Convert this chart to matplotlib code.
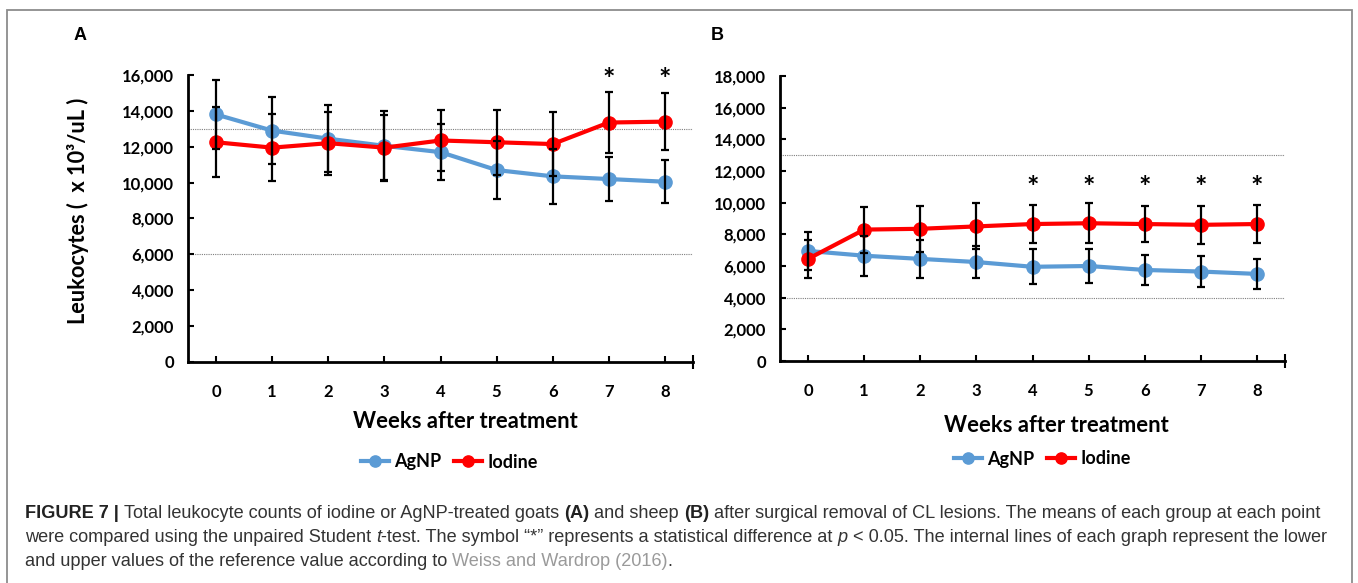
import matplotlib
matplotlib.use("Agg")
import matplotlib.pyplot as plt
from matplotlib.patches import Rectangle

# data
weeks = [0, 1, 2, 3, 4, 5, 6, 7, 8]
week_labels = ["0", "1", "2", "3", "4", "5", "6", "7", "8"]

goat_agnp = [13800, 12900, 12450, 12050, 11700, 10700, 10350, 10200, 10050]
goat_agnp_err = [1900, 1850, 1850, 1950, 1550, 1600, 1550, 1250, 1200]
goat_iodine = [12250, 11950, 12200, 11950, 12350, 12250, 12150, 13350, 13400]
goat_iodine_err = [1950, 1850, 1750, 1800, 1700, 1800, 1800, 1700, 1600]
goat_ref = [6000, 13000]
goat_sig = [7, 8]
goat_yticks = [0, 2000, 4000, 6000, 8000, 10000, 12000, 14000, 16000]

sheep_agnp = [6950, 6650, 6450, 6250, 5950, 6000, 5750, 5650, 5500]
sheep_agnp_err = [1200, 1250, 1200, 1000, 1100, 1050, 950, 1000, 950]
sheep_iodine = [6450, 8300, 8350, 8500, 8650, 8700, 8650, 8600, 8650]
sheep_iodine_err = [1200, 1450, 1450, 1450, 1200, 1250, 1150, 1200, 1200]
sheep_ref = [4000, 13000]
sheep_sig = [4, 5, 6, 7, 8]
sheep_yticks = [0, 2000, 4000, 6000, 8000, 10000, 12000, 14000, 16000, 18000]

BLUE = "#5B9BD5"
RED = "#FF0000"
FONT = ["Lato", "DejaVu Sans"]

W, H = 1358, 583
fig = plt.figure(figsize=(W / 100, H / 100), dpi=100)

def fx(x):
    return x / W

def fy(y):
    return 1 - y / H

# outer frame of the figure panel
fig.patches.append(Rectangle((fx(7), fy(600)), fx(1352) - fx(7), fy(10) - fy(600),
                             transform=fig.transFigure, fill=False,
                             edgecolor="#8c8c8c", lw=1.3, clip_on=False))


def panel(rect, agnp, agnp_err, iodine, iodine_err, ref, sig, yticks, ymax, star_y):
    ax = fig.add_axes(rect)
    for r in ref:
        ax.axhline(r, color="#7f7f7f", lw=0.8, ls=(0, (1, 1)), zorder=1)
    ax.plot(weeks, agnp, color=BLUE, lw=3, marker="o", ms=9.5, zorder=2, label="AgNP")
    ax.plot(weeks, iodine, color=RED, lw=3, marker="o", ms=9.5, zorder=2, label="Iodine")
    ax.errorbar(weeks, agnp, yerr=agnp_err, fmt="none", ecolor="black",
                elinewidth=1.6, capsize=3, capthick=1.6, zorder=3)
    ax.errorbar(weeks, iodine, yerr=iodine_err, fmt="none", ecolor="black",
                elinewidth=1.6, capsize=3, capthick=1.6, zorder=3)
    for w in sig:
        ax.text(w, star_y, "*", ha="center", va="center", fontsize=21,
                fontweight="bold", family=FONT, clip_on=False)
    ax.set_xlim(-0.5, 8.5)
    ax.set_ylim(0, ymax)
    ax.set_xticks(weeks)
    ax.set_xticklabels(week_labels)
    ax.set_yticks(yticks)
    ax.set_yticklabels([f"{v:,}" for v in yticks])
    ax.tick_params(axis="y", direction="in", length=4, width=1.5, pad=10)
    ax.tick_params(axis="x", direction="in", length=4, width=1.5, pad=16)
    ax.set_xticks([8.5], minor=True)
    ax.tick_params(axis="x", which="minor", direction="inout", length=10, width=1.5)
    for lab in ax.get_xticklabels() + ax.get_yticklabels():
        lab.set_family(FONT)
        lab.set_fontweight("bold")
        lab.set_fontsize(12)
    for s in ["top", "right"]:
        ax.spines[s].set_visible(False)
    for s in ["left", "bottom"]:
        ax.spines[s].set_linewidth(2)
    return ax


axA = panel([fx(188), fy(362), fx(693) - fx(188), fy(75) - fy(362)],
            goat_agnp, goat_agnp_err, goat_iodine, goat_iodine_err,
            goat_ref, goat_sig, goat_yticks, 16000, 15700)
axB = panel([fx(780), fy(361), fx(1285) - fx(780), fy(76) - fy(361)],
            sheep_agnp, sheep_agnp_err, sheep_iodine, sheep_iodine_err,
            sheep_ref, sheep_sig, sheep_yticks, 18000, 10950)

# titles, labels, legends
fig.text(fx(80), fy(35), "A", fontsize=13, fontweight="bold", family="Liberation Sans",
         ha="center", va="center")
fig.text(fx(717), fy(35), "B", fontsize=13, fontweight="bold", family="Liberation Sans",
         ha="center", va="center")
fig.text(fx(465), fy(421), "Weeks after treatment", fontsize=15.8, fontweight="bold",
         family=FONT, ha="center", va="center")
fig.text(fx(1056), fy(425), "Weeks after treatment", fontsize=15.8, fontweight="bold",
         family=FONT, ha="center", va="center")
fig.text(fx(78), fy(211), "Leukocytes (  x 10³/uL )", fontsize=15.7, fontweight="bold",
         family=FONT, ha="center", va="center", rotation=90)

for ax, cx, cy in [(axA, 449, 462), (axB, 1042, 459)]:
    ax.legend(loc="center", bbox_to_anchor=(fx(cx), fy(cy)), bbox_transform=fig.transFigure,
              ncol=2, frameon=False, handlelength=1.55, handletextpad=0.3,
              columnspacing=0.7, markerscale=0.85,
              prop={"family": FONT, "weight": "bold", "size": 13})

# caption with mixed styles
renderer = fig.canvas.get_renderer()
CAP = ["Liberation Sans", "DejaVu Sans"]
CAP_SIZE = 13.1
caption = [
    [("FIGURE 7 | ", "bold", "normal", "#222222"),
     ("Total leukocyte counts of iodine or AgNP-treated goats ", "normal", "normal", "#333333"),
     ("(A)", "bold", "normal", "#222222"),
     (" and sheep ", "normal", "normal", "#333333"),
     ("(B)", "bold", "normal", "#222222"),
     (" after surgical removal of CL lesions. The means of each group at each point",
      "normal", "normal", "#333333")],
    [("were compared using the unpaired Student ", "normal", "normal", "#333333"),
     ("t", "normal", "italic", "#333333"),
     ("-test. The symbol \u201c*\u201d represents a statistical difference at ", "normal", "normal", "#333333"),
     ("p", "normal", "italic", "#333333"),
     (" < 0.05. The internal lines of each graph represent the lower", "normal", "normal", "#333333")],
    [("and upper values of the reference value according to ", "normal", "normal", "#333333"),
     ("Weiss and Wardrop (2016)", "normal", "normal", "#9a9a9a"),
     (".", "normal", "normal", "#333333")],
]
for row, ypix in zip(caption, [514, 538, 562]):
    x = fx(25)
    for text, weight, style, color in row:
        t = fig.text(x, fy(ypix), text, fontsize=CAP_SIZE, fontweight=weight, fontstyle=style,
                     color=color, family=CAP, ha="left", va="center")
        bb = t.get_window_extent(renderer=renderer)
        x += bb.width / (W)

fig.savefig("out.png", dpi=100)
